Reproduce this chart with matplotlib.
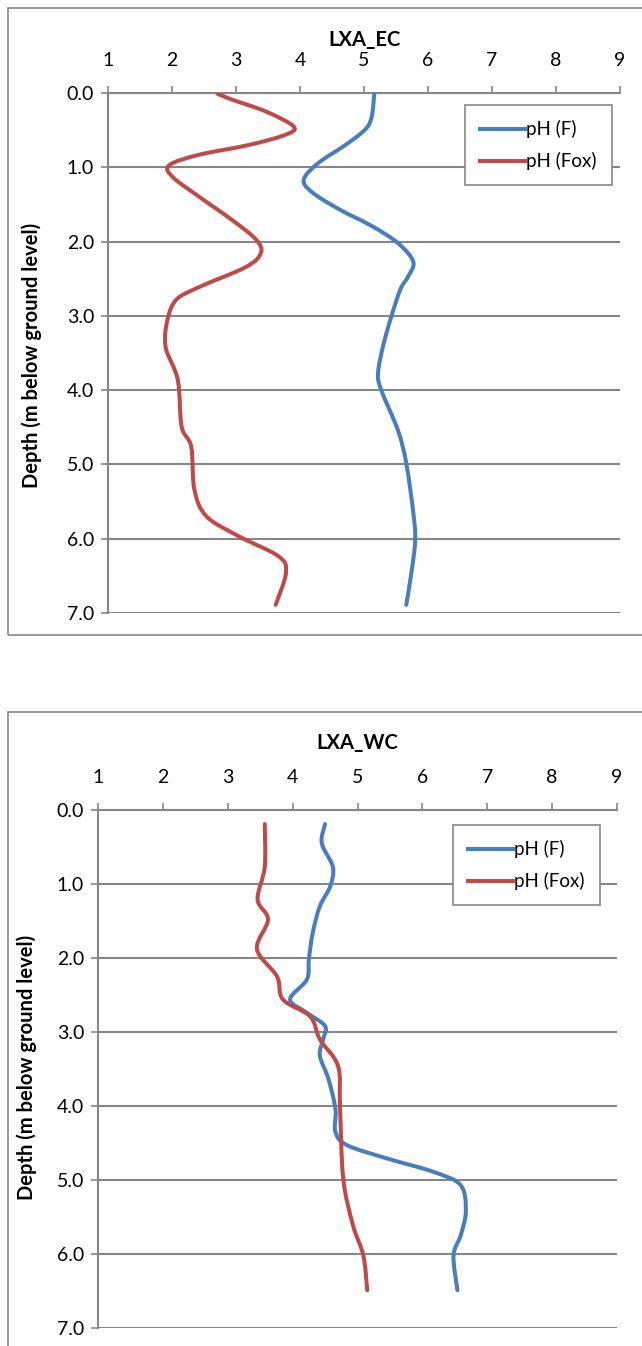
import numpy as np
import matplotlib.pyplot as plt
from matplotlib.patches import Rectangle, PathPatch
from matplotlib.path import Path
from matplotlib.transforms import IdentityTransform
from matplotlib.lines import Line2D

plt.rcParams['font.family'] = ['Lato', 'DejaVu Sans']

BLUE = '#4A7EBB'
RED = '#BE4B48'
GREY = '#868686'
LW = 2.9

# LXA_EC profile
ec_depth_f = [0.01, 0.32, 0.49, 0.70, 0.94, 1.16, 1.33, 1.56, 1.79, 2.02, 2.27, 2.47, 2.64,
              3.00, 3.40, 3.77, 4.00, 4.54, 4.98, 5.65, 6.02, 6.46, 6.89]
ec_ph_f = [5.16, 5.12, 5.02, 4.71, 4.29, 4.06, 4.18, 4.60, 5.12, 5.53, 5.77, 5.69, 5.57,
           5.43, 5.30, 5.22, 5.27, 5.53, 5.66, 5.77, 5.80, 5.74, 5.66]
ec_depth_fox = [0.01, 0.09, 0.25, 0.45, 0.56, 0.70, 0.83, 0.97, 1.13, 1.40, 1.71, 1.97, 2.15,
                2.34, 2.61, 2.78, 3.05, 3.42, 3.86, 4.49, 4.76, 5.34, 5.70, 5.97, 6.24, 6.46, 6.89]
ec_ph_fox = [2.71, 2.94, 3.47, 3.90, 3.78, 3.20, 2.43, 1.96, 2.01, 2.43, 2.94, 3.31, 3.39,
             3.16, 2.43, 2.07, 1.93, 1.90, 2.09, 2.15, 2.30, 2.35, 2.54, 3.05, 3.67, 3.78, 3.62]

# LXA_WC profile
wc_depth_f = [0.19, 0.45, 0.77, 1.03, 1.30, 1.66, 2.02, 2.29, 2.56, 2.74, 2.92, 3.10, 3.32,
              3.63, 4.04, 4.35, 4.53, 4.71, 4.89, 5.07, 5.42, 5.75, 6.02, 6.49]
wc_ph_f = [4.50, 4.45, 4.62, 4.58, 4.42, 4.31, 4.25, 4.22, 3.96, 4.22, 4.50, 4.47, 4.42,
           4.55, 4.66, 4.66, 4.84, 5.46, 6.17, 6.59, 6.67, 6.59, 6.48, 6.54]
wc_depth_fox = [0.19, 0.77, 1.21, 1.48, 1.88, 2.25, 2.56, 2.79, 3.10, 3.46, 4.00, 4.98,
                5.61, 6.02, 6.49]
wc_ph_fox = [3.57, 3.57, 3.46, 3.62, 3.45, 3.76, 3.85, 4.27, 4.42, 4.70, 4.73, 4.78,
             4.93, 5.09, 5.15]

W, H = 642, 1346
fig = plt.figure(figsize=(W / 100, H / 100), dpi=100)


def px_axes(left, top, right, bottom):
    return fig.add_axes([left / W, 1 - bottom / H, (right - left) / W, (bottom - top) / H])


def smooth_line(ax, x, y, color):
    # spreadsheet-style smoothed line: cubic Bezier through every point
    p = ax.transData.transform(np.column_stack([x, y]))
    verts = [p[0]]
    codes = [Path.MOVETO]
    n = len(p)
    for i in range(n - 1):
        p0 = p[max(i - 1, 0)]
        p3 = p[min(i + 2, n - 1)]
        c1 = p[i] + (p[i + 1] - p0) / 6
        c2 = p[i + 1] - (p3 - p[i]) / 6
        verts += [c1, c2, p[i + 1]]
        codes += [Path.CURVE4] * 3
    ax.add_patch(PathPatch(Path(verts, codes), transform=IdentityTransform(),
                           fill=False, edgecolor=color, lw=LW, capstyle='round',
                           joinstyle='round', zorder=3))


def draw(ax, title, d_f, ph_f, d_fox, ph_fox, legend_anchor, title_xy, ylabel_xy):
    ax.set_xlim(1, 9)
    ax.set_ylim(7, 0)
    smooth_line(ax, ph_f, d_f, BLUE)
    smooth_line(ax, ph_fox, d_fox, RED)
    ax.set_xticks(np.arange(1, 10))
    ax.set_yticks(np.arange(0, 8))
    ax.set_yticklabels([f'{v:.1f}' for v in range(8)])
    ax.xaxis.tick_top()
    ax.tick_params(axis='x', direction='out', length=5, width=1.2, color=GREY,
                   labelsize=14, pad=12)
    ax.tick_params(axis='y', direction='out', length=5, width=1.2, color=GREY,
                   labelsize=14, pad=5)
    for side in ['right', 'bottom']:
        ax.spines[side].set_visible(False)
    for side in ['left', 'top']:
        ax.spines[side].set_color(GREY)
        ax.spines[side].set_linewidth(1.5)
    ax.yaxis.grid(True, color=GREY, lw=1.5)
    ax.set_axisbelow(True)
    handles = [Line2D([], [], color=BLUE, lw=LW), Line2D([], [], color=RED, lw=LW)]
    leg = ax.legend(handles, ['pH (F)', 'pH (Fox)'], loc='upper right',
                    bbox_to_anchor=legend_anchor, borderaxespad=0, fontsize=13.5,
                    fancybox=False, framealpha=1, edgecolor=GREY, handlelength=2.4,
                    handletextpad=0.1, borderpad=0.8, labelspacing=0.75)
    leg.get_frame().set_linewidth(1.2)
    fig.text(title_xy[0] / W, 1 - title_xy[1] / H, title, ha='center', va='center',
             fontsize=14.5, fontweight='bold')
    fig.text(ylabel_xy[0] / W, 1 - ylabel_xy[1] / H, 'Depth (m below ground level)',
             ha='center', va='center', rotation=90, fontsize=14.5, fontweight='bold')


# chart area frames
fig.patches.append(Rectangle((8 / W, 1 - 635 / H), 700 / W, 627 / H, transform=fig.transFigure,
                             fill=False, edgecolor=GREY, lw=1.2))
fig.patches.append(Rectangle((8 / W, -0.05), 700 / W, 0.05 + 1 - 712 / H, transform=fig.transFigure,
                             fill=False, edgecolor=GREY, lw=1.2))

ax1 = px_axes(108, 93, 620, 613)
draw(ax1, 'LXA_EC', ec_depth_f, ec_ph_f, ec_depth_fox, ec_ph_fox,
     ((612 - 108) / 512, 1 - 12 / 520), (365, 40), (32, 355))

ax2 = px_axes(98, 810, 617, 1328)
draw(ax2, 'LXA_WC', wc_depth_f, wc_ph_f, wc_depth_fox, wc_ph_fox,
     ((600 - 98) / 519, 1 - 15 / 518), (357, 743), (27, 1067))

fig.savefig('out.png', dpi=100)
